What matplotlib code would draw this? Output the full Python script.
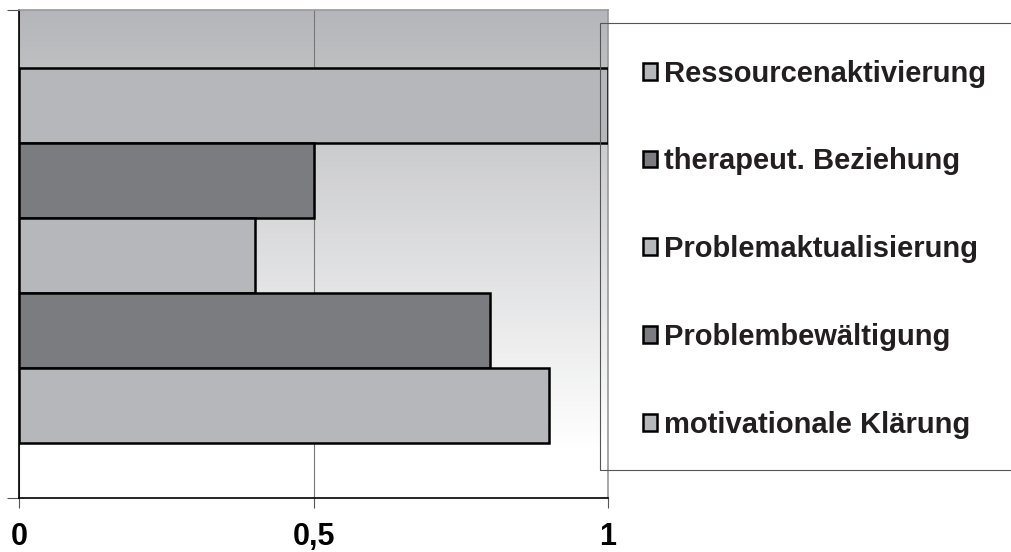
import numpy as np
import matplotlib.pyplot as plt
from matplotlib.patches import Rectangle

plt.rcParams['font.family'] = ['Liberation Sans', 'DejaVu Sans']

# series, drawn top to bottom
labels = ['Ressourcenaktivierung', 'therapeut. Beziehung', 'Problemaktualisierung',
          'Problembewältigung', 'motivationale Klärung']
values = [1.0, 0.5, 0.4, 0.8, 0.9]
colors = ['#b6b7ba', '#7b7c80', '#b6b7ba', '#7b7c80', '#b6b7ba']
xticks = [0, 0.5, 1]
xticklabels = ['0', '0,5', '1']

fig = plt.figure(figsize=(10.11, 5.52), dpi=100)
ax = fig.add_axes([19 / 1011, 54 / 552, 589 / 1011, 488 / 552])

# gradient background (grey at top -> white at bottom)
grad = np.linspace(0, 1, 256).reshape(-1, 1)
top = np.array([0xb5, 0xb6, 0xb9]) / 255
img = top + (1 - top) * np.clip(grad / 0.9, 0, 1)[:, :, None]
ax.imshow(img, extent=[0, 1, 0, 1], aspect='auto', origin='upper', zorder=0,
          transform=ax.transAxes)

n = len(values)
h = 0.1535
group = h * n
ys = 0.5 + group / 2 - h / 2 - np.arange(n) * h - 0.003
handles = []
for y, v, c, lab in zip(ys, values, colors, labels):
    b = ax.barh(y, v, height=h, color=c, edgecolor='black', linewidth=1.8,
                zorder=3, label=lab)
    handles.append(b)

ax.set_xlim(0, 1)
ax.set_ylim(0, 1)
ax.set_xticks(xticks)
ax.set_xticklabels(xticklabels, fontsize=22, fontweight='bold')
ax.set_yticks([0, 1])
ax.set_yticklabels([])
ax.tick_params(axis='x', length=7.5, width=0.8, color='#555555', pad=10)
ax.tick_params(axis='y', length=9, width=0.8, color='#555555')
ax.grid(axis='x', color='#777777', linewidth=0.8, zorder=1)
ax.set_axisbelow(True)
for s in ['top', 'right']:
    ax.spines[s].set_color('#999999')
    ax.spines[s].set_linewidth(1.2)
ax.spines['left'].set_linewidth(1.2)
ax.spines['bottom'].set_linewidth(1.2)

# legend frame extends beyond the right edge
fig.patches.append(Rectangle((600 / 1011, 82 / 552), 500 / 1011, 447 / 552,
                             transform=fig.transFigure, fill=False,
                             edgecolor='#555555', linewidth=0.8, zorder=10))
leg = fig.legend(handles=handles, labels=labels, loc='upper left',
                 bbox_to_anchor=(628 / 1011, 1 - 45 / 552), frameon=False,
                 prop={'size': 21, 'weight': 'bold'}, handlelength=0.5,
                 handleheight=0.5, handletextpad=0.25, labelspacing=2.05,
                 borderpad=0)
for t in leg.get_texts():
    t.set_color('#231f20')

fig.savefig('out.png', dpi=100)
